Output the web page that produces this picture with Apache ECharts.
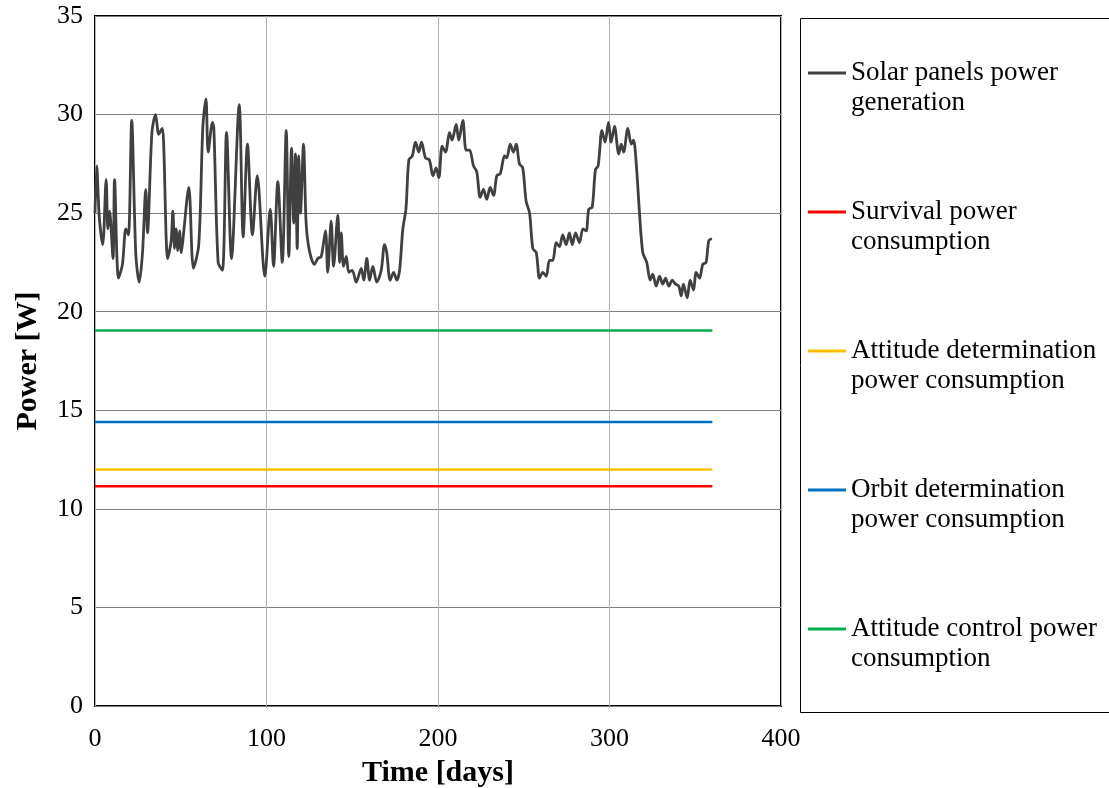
<!DOCTYPE html>
<html>
<head>
<meta charset="utf-8">
<script src="https://cdn.jsdelivr.net/npm/echarts@6/dist/echarts.min.js"></script>
<style>html,body{margin:0;padding:0;background:#fff}#c{width:1109px;height:788px}</style>
</head>
<body>
<div id="c"></div>
<script>
const xTicks = [0, 100, 200, 300, 400];
const yTicks = [0, 5, 10, 15, 20, 25, 30, 35];
const seriesNames = [
  'Solar panels power\ngeneration',
  'Survival power\nconsumption',
  'Attitude determination\npower consumption',
  'Orbit determination\npower consumption',
  'Attitude control power\nconsumption'
];
const solarDays = [0,1,2.5,4.5,6.5,7.5,8.5,10.5,11.4,13.7,16,18,19.5,21.4,23.8,25.8,27.7,29.6,30.6,33.2,35.3,37.2,39.2,40,42.4,44.4,45.4,46.4,47.3,48.3,49.3,50.3,51.2,54.7,57.4,60.5,62.9,64.7,66,68.5,69.3,71.8,74.3,76.7,79.6,84.1,86.4,88.9,91.8,94.6,99,102.2,104.1,106.6,109.2,111.5,113,114.6,115.9,116.9,117.9,118.8,119.8,121.6,123.1,125,128,129.9,131.9,134.4,135.7,137.7,139.1,141.6,142.6,143.6,144.9,146.5,148,150,152.3,155.2,156.7,158.5,160.1,162,164.3,166.9,168.8,170.1,172.1,174.1,176,177.6,179.5,181.3,183,185,186.9,188.8,190.4,192.7,195,197,198.9,200.5,202.4,204.4,206.7,208.2,210.6,212.1,214.5,216.4,218.4,220.7,222.6,224.6,226.5,228.4,230.4,232.4,234.3,236.3,238.8,240.1,242.1,244,245.6,247.5,249.4,251.4,253.4,255.3,257.3,259.2,261.1,263.1,265,266.9,268.9,270.8,272.7,274.7,276.6,278.3,280.2,282.5,284.5,286.4,287.9,289.9,291.8,293.4,295.6,297.4,299.4,301,302.9,305.4,306.8,308.2,310.7,312.7,314,315.6,317.5,319.4,321.7,323.7,325.2,327.2,329.2,331.1,332.7,334.6,336.6,338.5,340.4,341.8,343.1,345.3,347,349,350.5,352.5,354.4,356.3,357.9,359.7];
const solarPower = [25.0,27.4,24.8,23.4,26.7,24.2,25.1,22.7,26.7,21.7,22.4,24.2,23.9,29.7,22.9,21.5,23.0,26.2,24.0,29.1,30.0,29.0,29.3,28.6,22.7,23.6,25.1,23.2,24.2,23.1,24.1,23.0,23.6,26.3,22.2,23.4,29.4,30.8,28.1,29.6,29.3,22.5,22.1,29.1,22.7,30.5,23.8,28.5,23.9,26.9,21.8,25.2,22.3,26.6,22.5,29.2,22.8,28.3,24.5,28.0,23.2,27.9,25.0,28.5,24.5,23.1,22.4,22.7,22.8,24.1,22.0,24.6,22.3,24.9,22.5,24.0,22.3,22.8,22.0,22.1,21.5,22.2,21.6,22.7,21.6,22.3,21.5,22.1,23.4,23.0,21.6,22.0,21.6,22.1,24.2,25.2,27.7,27.9,28.6,28.1,28.6,27.8,27.7,26.9,27.3,26.8,28.4,28.1,29.1,28.7,29.5,28.7,29.7,28.2,28.2,27.4,27.1,25.8,26.2,25.7,26.3,25.9,26.9,27.0,27.9,27.8,28.5,28.1,28.5,27.5,27.3,25.6,25.0,23.2,23.0,21.7,22.0,21.8,22.6,22.6,23.5,23.3,23.9,23.4,24.0,23.4,24.0,23.5,24.2,24.1,25.2,25.3,27.2,27.4,29.2,28.6,29.6,28.6,29.4,28.0,28.5,28.1,29.3,28.5,28.7,27.5,25.0,23.0,22.5,21.6,21.9,21.3,21.8,21.4,21.7,21.3,21.6,21.4,21.3,20.8,21.4,20.7,21.6,21.1,22.0,21.7,22.4,22.5,23.6,23.7];
const constDays = [0, 360];
const survivalPower = 11.15;
const attDetPower = 12.0;
const orbitDetPower = 14.4;
const attCtrlPower = 19.05;
const colors = ['#404040', '#ff0000', '#ffc000', '#0070c0', '#00b050'];

const solarData = solarDays.map((d, i) => [d, solarPower[i]]);
const flat = v => constDays.map(d => [d, v]);
const font = 'Liberation Serif, Times New Roman, serif';

const chart = echarts.init(document.getElementById('c'), null, {renderer: 'canvas'});
chart.setOption({
  animation: false,
  color: colors,
  textStyle: {fontFamily: font},
  grid: {left: 95, top: 16, right: 328, bottom: 82, show: true, borderColor: '#000', borderWidth: 2, containLabel: false, outerBoundsMode: 'none'},
  xAxis: {
    type: 'value', min: xTicks[0], max: xTicks[xTicks.length - 1], interval: 100,
    name: 'Time [days]', nameLocation: 'middle', nameGap: 52,
    nameTextStyle: {fontFamily: font, fontSize: 30, fontWeight: 'bold', color: '#000'},
    axisLine: {show: false}, axisTick: {show: false},
    axisLabel: {fontFamily: font, fontSize: 26, color: '#000', margin: 20},
    splitLine: {show: true, lineStyle: {color: '#b4b4b4', width: 1}}
  },
  yAxis: {
    type: 'value', min: yTicks[0], max: yTicks[yTicks.length - 1], interval: 5,
    name: 'Power [W]', nameLocation: 'middle', nameGap: 52, nameRotate: 90,
    nameTextStyle: {fontFamily: font, fontSize: 30, fontWeight: 'bold', color: '#000'},
    axisLine: {show: false}, axisTick: {show: false},
    axisLabel: {fontFamily: font, fontSize: 26, color: '#000', margin: 12},
    splitLine: {show: true, lineStyle: {color: '#808080', width: 1}}
  },
  legend: {
    orient: 'vertical', left: 808, top: 28, padding: 0,
    itemWidth: 38, itemHeight: 14, itemGap: 49,
    icon: 'path://M0,0 L38,0 L38,3 L0,3 Z',
    formatter: name => ' \n' + name,
    textStyle: {fontFamily: font, fontSize: 27, color: '#000', lineHeight: 30},
    data: seriesNames
  },
  graphic: [{
    type: 'rect', left: 798, top: 16,
    shape: {width: 330, height: 694},
    style: {fill: 'none', stroke: '#000', lineWidth: 1}
  }],
  series: [
    {name: seriesNames[0], type: 'line', data: solarData, symbol: 'none', smooth: 0.3, lineStyle: {width: 2.8, color: colors[0]}, z: 5},
    {name: seriesNames[1], type: 'line', data: flat(survivalPower), symbol: 'none', lineStyle: {width: 2.5, color: colors[1]}},
    {name: seriesNames[2], type: 'line', data: flat(attDetPower), symbol: 'none', lineStyle: {width: 2.5, color: colors[2]}},
    {name: seriesNames[3], type: 'line', data: flat(orbitDetPower), symbol: 'none', lineStyle: {width: 2.5, color: colors[3]}},
    {name: seriesNames[4], type: 'line', data: flat(attCtrlPower), symbol: 'none', lineStyle: {width: 2.5, color: colors[4]}}
  ]
});
</script>
</body>
</html>
